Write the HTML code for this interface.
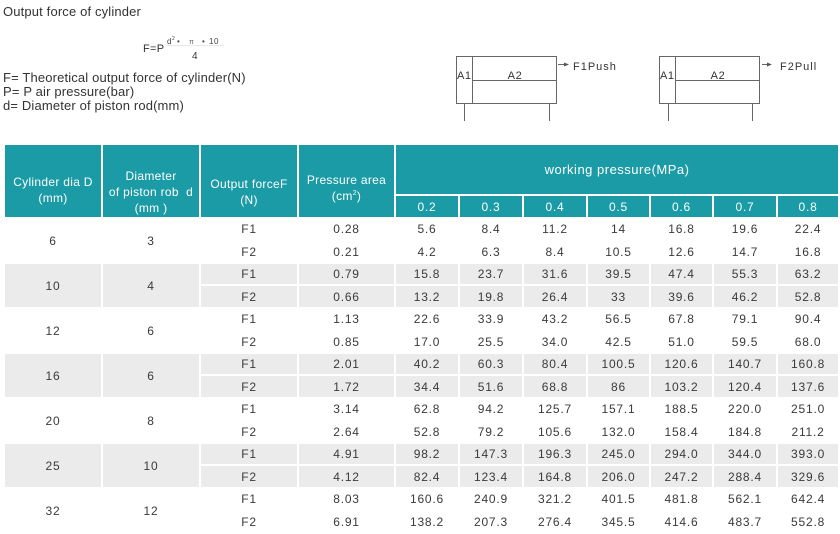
<!DOCTYPE html>
<html>
<head>
<meta charset="utf-8">
<style>
html,body{margin:0;padding:0;background:#fff;}
body{width:840px;height:529px;overflow:hidden;position:relative;font-family:"Liberation Sans",Arial,sans-serif;}
svg.top{position:absolute;left:0;top:0;}
table{position:absolute;left:3px;top:143px;border-collapse:separate;border-spacing:2px;table-layout:fixed;width:837px;font-family:"Liberation Sans",Arial,sans-serif;}
th{background:#1a9ba6;color:#fff;font-weight:normal;font-size:12px;line-height:16px;letter-spacing:0.3px;padding:0;text-align:center;vertical-align:middle;}
th.wp{height:49px;font-size:13px;letter-spacing:0.5px;}
th.p{height:21px;font-size:12px;letter-spacing:0.8px;}
td{padding:0;text-align:center;vertical-align:middle;font-size:12px;line-height:14px;letter-spacing:0.8px;color:#3a3a3a;background:#fff;}
tr.a td{height:20px;}
tr.b td{height:21px;}
tr.g td{background:#ebebeb;}
</style>
</head>
<body>
<svg class="top" width="840" height="140" xmlns="http://www.w3.org/2000/svg" font-family="Liberation Sans, Arial, sans-serif">
  <text x="3" y="16" font-size="13" fill="#333" letter-spacing="0.15">Output force of cylinder</text>
  <text x="143" y="52" font-size="11" fill="#333" letter-spacing="0.3">F=P</text>
  <text x="167" y="44" font-size="8" fill="#444">d</text>
  <text x="172" y="40" font-size="5" fill="#444">2</text>
  <text x="177" y="44" font-size="8" fill="#444">•</text>
  <text x="189" y="44" font-size="7" fill="#666">π</text>
  <text x="202" y="44" font-size="8" fill="#444">•</text>
  <text x="209" y="44" font-size="8" fill="#444" letter-spacing="0.5">10</text>
  <line x1="167" y1="45.5" x2="224" y2="45.5" stroke="#e0e0e0" stroke-width="0.8"/>
  <text x="192" y="59" font-size="10" fill="#333">4</text>
  <text x="3" y="82" font-size="13" fill="#333" letter-spacing="0.15">F= Theoretical output force of cylinder(N)</text>
  <text x="3" y="96" font-size="13" fill="#333" letter-spacing="0.15">P= P air pressure(bar)</text>
  <text x="3" y="110" font-size="13" fill="#333" letter-spacing="0.15">d= Diameter of piston rod(mm)</text>

  <g stroke="#666" stroke-width="1" fill="none">
    <rect x="456.5" y="56.5" width="100" height="47"/>
    <line x1="472.5" y1="56.5" x2="472.5" y2="103.5"/>
    <line x1="472.5" y1="80.5" x2="556.5" y2="80.5"/>
    <line x1="464.5" y1="103.5" x2="464.5" y2="121"/>
    <line x1="549.5" y1="103.5" x2="549.5" y2="121"/>
    <line x1="558" y1="64.5" x2="565" y2="64.5"/>

    <rect x="659.5" y="56.5" width="100" height="47"/>
    <line x1="675.5" y1="56.5" x2="675.5" y2="103.5"/>
    <line x1="675.5" y1="80.5" x2="759.5" y2="80.5"/>
    <line x1="668.5" y1="103.5" x2="668.5" y2="121"/>
    <line x1="752.5" y1="103.5" x2="752.5" y2="121"/>
    <line x1="762" y1="64.5" x2="768" y2="64.5"/>
  </g>
  <polygon points="564,62.5 569,64.5 564,66.5" fill="#555"/>
  <polygon points="767,62.5 772,64.5 767,66.5" fill="#555"/>
  <g font-size="11" fill="#333" letter-spacing="0.6">
    <text x="457" y="79">A1</text>
    <text x="515" y="79" text-anchor="middle">A2</text>
    <text x="573" y="70" letter-spacing="1">F1Push</text>
    <text x="660" y="79">A1</text>
    <text x="718" y="79" text-anchor="middle">A2</text>
    <text x="780" y="70" letter-spacing="1">F2Pull</text>
  </g>
</svg>

<table>
<colgroup>
<col style="width:96px"><col style="width:96px"><col style="width:96px"><col style="width:95px">
<col style="width:62px"><col style="width:62px"><col style="width:62px"><col style="width:61px"><col style="width:61px"><col style="width:62px"><col style="width:60px">
</colgroup>
<tr>
<th rowspan="2" style="padding-top:18px">Cylinder dia D<br>(mm)</th>
<th rowspan="2" style="padding-top:22px">Diameter<br>of piston rob&nbsp; d<br>(mm )</th>
<th rowspan="2" style="padding-top:22px">Output forceF<br>(N)</th>
<th rowspan="2" style="padding-top:14px">Pressure area<br>(cm<sup style="font-size:7px;line-height:0">2</sup>)</th>
<th colspan="7" class="wp">working pressure(MPa)</th>
</tr>
<tr>
<th class="p">0.2</th><th class="p">0.3</th><th class="p">0.4</th><th class="p">0.5</th><th class="p">0.6</th><th class="p">0.7</th><th class="p">0.8</th>
</tr>

<tr class="a"><td rowspan="2">6</td><td rowspan="2">3</td><td>F1</td><td>0.28</td><td>5.6</td><td>8.4</td><td>11.2</td><td>14</td><td>16.8</td><td>19.6</td><td>22.4</td></tr>
<tr class="b"><td>F2</td><td>0.21</td><td>4.2</td><td>6.3</td><td>8.4</td><td>10.5</td><td>12.6</td><td>14.7</td><td>16.8</td></tr>

<tr class="a g"><td rowspan="2">10</td><td rowspan="2">4</td><td>F1</td><td>0.79</td><td>15.8</td><td>23.7</td><td>31.6</td><td>39.5</td><td>47.4</td><td>55.3</td><td>63.2</td></tr>
<tr class="b g"><td>F2</td><td>0.66</td><td>13.2</td><td>19.8</td><td>26.4</td><td>33</td><td>39.6</td><td>46.2</td><td>52.8</td></tr>

<tr class="a"><td rowspan="2">12</td><td rowspan="2">6</td><td>F1</td><td>1.13</td><td>22.6</td><td>33.9</td><td>43.2</td><td>56.5</td><td>67.8</td><td>79.1</td><td>90.4</td></tr>
<tr class="b"><td>F2</td><td>0.85</td><td>17.0</td><td>25.5</td><td>34.0</td><td>42.5</td><td>51.0</td><td>59.5</td><td>68.0</td></tr>

<tr class="a g"><td rowspan="2">16</td><td rowspan="2">6</td><td>F1</td><td>2.01</td><td>40.2</td><td>60.3</td><td>80.4</td><td>100.5</td><td>120.6</td><td>140.7</td><td>160.8</td></tr>
<tr class="b g"><td>F2</td><td>1.72</td><td>34.4</td><td>51.6</td><td>68.8</td><td>86</td><td>103.2</td><td>120.4</td><td>137.6</td></tr>

<tr class="a"><td rowspan="2">20</td><td rowspan="2">8</td><td>F1</td><td>3.14</td><td>62.8</td><td>94.2</td><td>125.7</td><td>157.1</td><td>188.5</td><td>220.0</td><td>251.0</td></tr>
<tr class="b"><td>F2</td><td>2.64</td><td>52.8</td><td>79.2</td><td>105.6</td><td>132.0</td><td>158.4</td><td>184.8</td><td>211.2</td></tr>

<tr class="a g"><td rowspan="2">25</td><td rowspan="2">10</td><td>F1</td><td>4.91</td><td>98.2</td><td>147.3</td><td>196.3</td><td>245.0</td><td>294.0</td><td>344.0</td><td>393.0</td></tr>
<tr class="b g"><td>F2</td><td>4.12</td><td>82.4</td><td>123.4</td><td>164.8</td><td>206.0</td><td>247.2</td><td>288.4</td><td>329.6</td></tr>

<tr class="a"><td rowspan="2">32</td><td rowspan="2">12</td><td>F1</td><td>8.03</td><td>160.6</td><td>240.9</td><td>321.2</td><td>401.5</td><td>481.8</td><td>562.1</td><td>642.4</td></tr>
<tr class="b"><td>F2</td><td>6.91</td><td>138.2</td><td>207.3</td><td>276.4</td><td>345.5</td><td>414.6</td><td>483.7</td><td>552.8</td></tr>
</table>
</body>
</html>
